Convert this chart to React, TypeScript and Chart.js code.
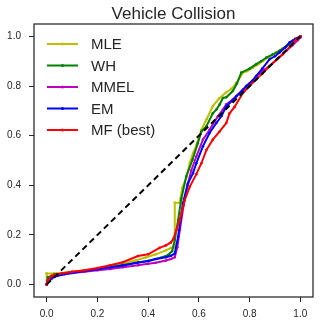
import React, { useEffect, useRef } from "react";
import { Chart, registerables } from "chart.js";

Chart.register(...registerables);

const chartTitle = "Vehicle Collision";
const seriesNames = ["MLE", "WH", "MMEL", "EM", "MF (best)"];
const seriesColors = ["#bfbf00", "#008000", "#bf00bf", "#0000ff", "#ff0000"];

const mleX = [0, 0, 0.03, 0.06, 0.1, 0.15, 0.2, 0.25, 0.3, 0.35, 0.39, 0.43, 0.47, 0.49, 0.505, 0.505, 0.524, 0.535, 0.55, 0.564, 0.577, 0.59, 0.61, 0.63, 0.655, 0.68, 0.708, 0.73, 0.748, 0.774, 0.79, 0.813, 0.83, 0.853, 0.88, 0.905, 0.93, 0.96, 0.98, 1.0];
const mleY = [0, 0.045, 0.045, 0.047, 0.052, 0.058, 0.064, 0.074, 0.085, 0.097, 0.109, 0.122, 0.138, 0.148, 0.15, 0.33, 0.33, 0.39, 0.43, 0.49, 0.53, 0.56, 0.624, 0.665, 0.719, 0.75, 0.775, 0.79, 0.813, 0.854, 0.86, 0.874, 0.885, 0.901, 0.918, 0.935, 0.952, 0.973, 0.985, 1.0];

const whX = [0, 0.005, 0.03, 0.06, 0.1, 0.15, 0.2, 0.25, 0.3, 0.35, 0.4, 0.45, 0.48, 0.495, 0.505, 0.518, 0.531, 0.55, 0.575, 0.596, 0.61, 0.63, 0.655, 0.669, 0.682, 0.695, 0.708, 0.734, 0.75, 0.767, 0.8, 0.826, 0.845, 0.866, 0.89, 0.918, 0.945, 0.971, 1.0];
const whY = [0, 0.03, 0.04, 0.045, 0.05, 0.056, 0.063, 0.07, 0.079, 0.087, 0.095, 0.108, 0.12, 0.135, 0.18, 0.26, 0.347, 0.435, 0.503, 0.57, 0.617, 0.638, 0.69, 0.705, 0.726, 0.752, 0.755, 0.78, 0.81, 0.854, 0.87, 0.888, 0.9, 0.915, 0.927, 0.942, 0.96, 0.982, 1.0];

const mmelX = [0, 0.005, 0.03, 0.06, 0.1, 0.15, 0.2, 0.25, 0.3, 0.36, 0.4, 0.43, 0.47, 0.49, 0.505, 0.515, 0.525, 0.54, 0.555, 0.57, 0.59, 0.616, 0.642, 0.675, 0.695, 0.708, 0.734, 0.774, 0.8, 0.826, 0.85, 0.879, 0.91, 0.945, 0.97, 0.99, 1.0];
const mmelY = [0, 0.02, 0.035, 0.042, 0.047, 0.052, 0.058, 0.063, 0.07, 0.078, 0.084, 0.088, 0.097, 0.103, 0.11, 0.15, 0.22, 0.32, 0.4, 0.46, 0.516, 0.584, 0.624, 0.678, 0.705, 0.726, 0.746, 0.786, 0.81, 0.84, 0.86, 0.881, 0.91, 0.942, 0.965, 0.985, 0.995];

const emX = [0, 0.005, 0.02, 0.04, 0.07, 0.1, 0.15, 0.2, 0.25, 0.3, 0.36, 0.4, 0.43, 0.47, 0.49, 0.505, 0.518, 0.537, 0.557, 0.577, 0.59, 0.616, 0.642, 0.669, 0.69, 0.708, 0.73, 0.748, 0.77, 0.787, 0.81, 0.826, 0.85, 0.879, 0.9, 0.918, 0.94, 0.958, 0.98, 1.0];
const emY = [0, 0.01, 0.025, 0.035, 0.042, 0.047, 0.055, 0.062, 0.07, 0.077, 0.089, 0.095, 0.103, 0.11, 0.116, 0.125, 0.192, 0.327, 0.408, 0.449, 0.489, 0.557, 0.611, 0.651, 0.68, 0.719, 0.74, 0.759, 0.78, 0.8, 0.82, 0.84, 0.87, 0.908, 0.92, 0.935, 0.955, 0.976, 0.99, 1.0];

const mfX = [0, 0.005, 0.02, 0.04, 0.07, 0.1, 0.15, 0.2, 0.25, 0.3, 0.36, 0.4, 0.445, 0.47, 0.49, 0.5, 0.511, 0.524, 0.544, 0.564, 0.59, 0.61, 0.63, 0.655, 0.682, 0.708, 0.721, 0.74, 0.774, 0.8, 0.826, 0.85, 0.879, 0.905, 0.931, 0.96, 0.984, 1.0];
const mfY = [0, 0.015, 0.035, 0.042, 0.047, 0.052, 0.058, 0.067, 0.078, 0.09, 0.115, 0.122, 0.148, 0.158, 0.17, 0.185, 0.219, 0.259, 0.34, 0.394, 0.445, 0.489, 0.543, 0.584, 0.617, 0.651, 0.69, 0.715, 0.773, 0.8, 0.827, 0.85, 0.881, 0.905, 0.928, 0.96, 0.989, 1.0];

const diagX = [0, 1];
const diagY = [0, 1];

const xTicks = [0, 0.2, 0.4, 0.6, 0.8, 1.0];
const yTicks = [0, 0.2, 0.4, 0.6, 0.8, 1.0];

const seriesX = [mleX, whX, mmelX, emX, mfX];
const seriesY = [mleY, whY, mmelY, emY, mfY];

const FONT = "'Liberation Sans', Arial, sans-serif";
const TEXT = "#262626";

function pts(xs: number[], ys: number[]) {
  return xs.map((x, i) => ({ x, y: ys[i] }));
}

export default function App() {
  const ref = useRef<HTMLCanvasElement | null>(null);

  useEffect(() => {
    if (!ref.current) return;
    const datasets: any[] = seriesNames.map((name, i) => ({
      label: name,
      data: pts(seriesX[i], seriesY[i]),
      borderColor: seriesColors[i],
      backgroundColor: seriesColors[i],
      borderWidth: 2,
      pointRadius: 1.3,
      pointBorderWidth: 0,
      pointBackgroundColor: seriesColors[i],
      tension: 0,
      order: 10 - i,
    }));
    datasets.push({
      label: "diagonal",
      data: pts(diagX, diagY),
      borderColor: "#000000",
      borderWidth: 2,
      borderDash: [6, 4],
      pointRadius: 0,
      order: 0,
    });

    const overlay = {
      id: "overlay",
      afterDraw(chart: any) {
        const { ctx, chartArea } = chart;
        ctx.save();
        ctx.strokeStyle = TEXT;
        ctx.lineWidth = 1.25;
        ctx.strokeRect(chartArea.left, chartArea.top, chartArea.right - chartArea.left, chartArea.bottom - chartArea.top);
        ctx.fillStyle = TEXT;
        ctx.font = `17px ${FONT}`;
        ctx.textAlign = "center";
        ctx.textBaseline = "alphabetic";
        ctx.fillText(chartTitle, (chartArea.left + chartArea.right) / 2, 18.5);
        ctx.font = `15px ${FONT}`;
        ctx.textAlign = "left";
        ctx.textBaseline = "middle";
        seriesNames.forEach((name, i) => {
          const y = 44 + i * 21.5;
          ctx.strokeStyle = seriesColors[i];
          ctx.lineWidth = 2;
          ctx.beginPath();
          ctx.moveTo(47, y);
          ctx.lineTo(78, y);
          ctx.stroke();
          ctx.fillStyle = seriesColors[i];
          ctx.beginPath();
          ctx.arc(62.5, y, 1.5, 0, Math.PI * 2);
          ctx.fill();
          ctx.fillStyle = TEXT;
          ctx.fillText(name, 91, y + 1);
        });
        ctx.restore();
      },
    };

    const chart = new Chart(ref.current, {
      type: "line",
      data: { datasets },
      options: {
        animation: false,
        responsive: false,
        maintainAspectRatio: false,
        layout: { padding: { top: 24, right: 13, left: 0, bottom: 0 } },
        plugins: { legend: { display: false }, title: { display: false }, tooltip: { enabled: false } },
        scales: {
          x: {
            type: "linear",
            min: -0.05,
            max: 1.05,
            afterBuildTicks: (s: any) => { s.ticks = xTicks.map((v) => ({ value: v })); },
            afterFit: (s: any) => { s.height = 29; },
            ticks: { callback: (v: any) => Number(v).toFixed(1), font: { size: 10, family: FONT }, color: TEXT, padding: 6, maxRotation: 0 },
            grid: { display: true, drawOnChartArea: false, drawTicks: true, tickLength: 5, color: TEXT, lineWidth: 1 },
            border: { display: false },
          },
          y: {
            type: "linear",
            min: -0.05,
            max: 1.05,
            afterBuildTicks: (s: any) => { s.ticks = yTicks.map((v) => ({ value: v })); },
            afterFit: (s: any) => { s.width = 34; },
            ticks: { callback: (v: any) => Number(v).toFixed(1), font: { size: 10, family: FONT }, color: TEXT, padding: 8 },
            grid: { display: true, drawOnChartArea: false, drawTicks: true, tickLength: 5, color: TEXT, lineWidth: 1 },
            border: { display: false },
          },
        },
      } as any,
      plugins: [overlay],
    });
    return () => chart.destroy();
  }, []);

  return (
    <div style={{ position: "fixed", left: 0, top: 0, width: 326, height: 326, background: "#fff" }}>
      <canvas ref={ref} width={326} height={326} style={{ width: 326, height: 326 }} />
    </div>
  );
}
